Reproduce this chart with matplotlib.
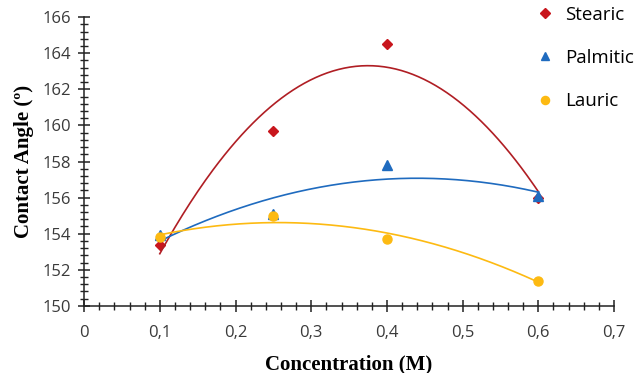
import numpy as np
import matplotlib
matplotlib.use('Agg')
import matplotlib.pyplot as plt
from matplotlib.ticker import MultipleLocator

# data
conc = [0.1, 0.25, 0.4, 0.6]
stearic = [153.4, 159.7, 164.5, 156.0]
palmitic = [153.9, 155.1, 157.8, 156.1]
lauric = [153.8, 155.0, 153.7, 151.4]
series_names = ['Stearic', 'Palmitic', 'Lauric']
x_ticks = [0, 0.1, 0.2, 0.3, 0.4, 0.5, 0.6, 0.7]
x_labels = ['0', '0,1', '0,2', '0,3', '0,4', '0,5', '0,6', '0,7']
y_ticks = [150, 152, 154, 156, 158, 160, 162, 164, 166]


def main():
    fig = plt.figure(figsize=(6.37, 3.73), dpi=100)
    ax = fig.add_axes([0.132, 0.18, 0.832, 0.774])

    styles = [('D', '#C8161D', '#B01E24', 5.5),
              ('^', '#1F6BBF', '#1F6BBF', 6.5),
              ('o', '#FDBA12', '#FDBA12', 6.5)]
    handles = []
    xs = np.linspace(min(conc), max(conc), 200)
    for ys, name, (mk, col, lcol, ms) in zip([stearic, palmitic, lauric], series_names, styles):
        h, = ax.plot(conc, ys, linestyle='none', marker=mk, color=col, markersize=ms, label=name)
        handles.append(h)
        # excel-style 2nd order polynomial trendline
        coef = np.polyfit(conc, ys, 2)
        ax.plot(xs, np.polyval(coef, xs), color=lcol, linewidth=1.2)

    ax.set_xlim(0, 0.7)
    ax.set_ylim(150, 166)
    ax.set_xticks(x_ticks)
    ax.set_xticklabels(x_labels)
    ax.set_yticks(y_ticks)
    ax.xaxis.set_minor_locator(MultipleLocator(0.02))
    ax.yaxis.set_minor_locator(MultipleLocator(0.4))
    ax.tick_params(which='major', direction='inout', length=9, width=1.1, color='#222222',
                   labelsize=12, labelcolor='#3a3a3a', pad=5)
    ax.tick_params(which='minor', direction='inout', length=6, width=1.0, color='#222222')
    ax.tick_params(axis='x', which='major', pad=9)
    for s in ['top', 'right']:
        ax.spines[s].set_visible(False)
    for s in ['left', 'bottom']:
        ax.spines[s].set_color('#222222')
        ax.spines[s].set_linewidth(1.1)
    ax.set_xlabel('Concentration (M)', fontfamily='Liberation Serif', fontweight='bold',
                  fontsize=15, labelpad=10)
    ax.set_ylabel('Contact Angle (º)', fontfamily='Liberation Serif', fontweight='bold',
                  fontsize=15, labelpad=6)
    for t in ax.get_xticklabels() + ax.get_yticklabels():
        t.set_fontfamily('Open Sans')

    fig.legend(handles=handles, loc='upper right', bbox_to_anchor=(1.022, 1.03), frameon=False,
               prop={'family': 'Open Sans', 'size': 13.5}, labelspacing=1.35,
               handlelength=1.0, handletextpad=0.6, markerscale=0.9)

    plt.savefig('out.png', dpi=100)


if __name__ == '__main__':
    main()
